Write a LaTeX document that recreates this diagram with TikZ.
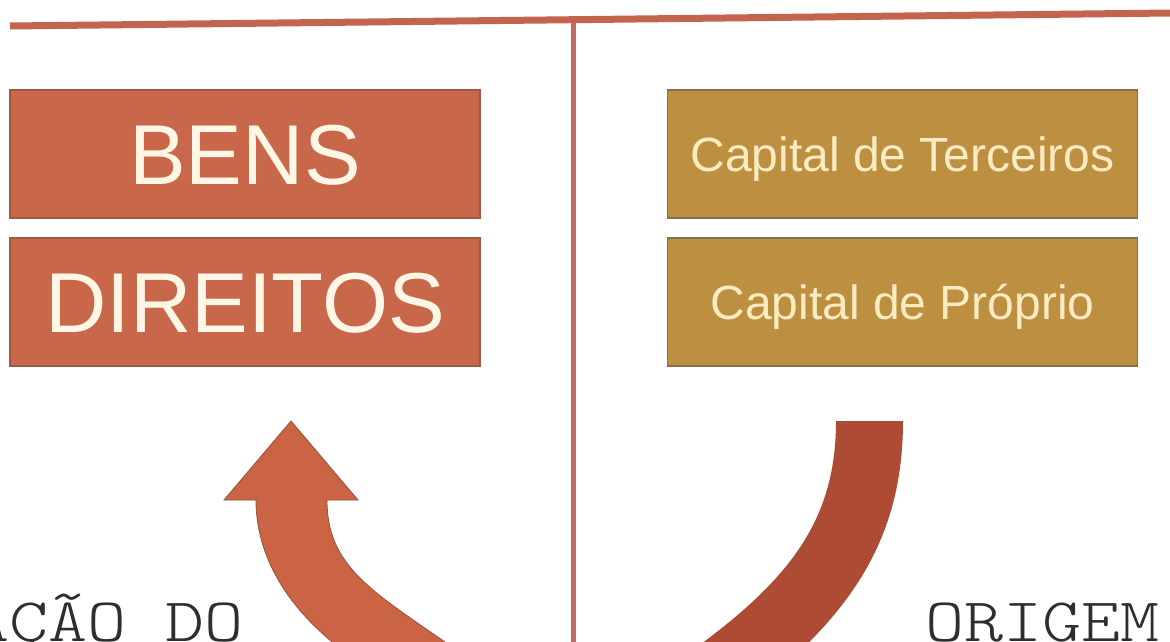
\documentclass[tikz,border=0pt]{standalone}
\usepackage{fontspec}
\setmainfont{Liberation Sans}
\newfontfamily\lightmono{lmmonolt10-regular.otf}
\usepackage{graphicx}
\definecolor{boxred}{HTML}{C8674A}
\definecolor{boxredline}{HTML}{9E5844}
\definecolor{boxgold}{HTML}{BC8F41}
\definecolor{boxgoldline}{HTML}{86704C}
\definecolor{txtcream}{HTML}{FFF6E6}
\definecolor{txtgold}{HTML}{FCEBC2}
\definecolor{rulecol}{HTML}{C3644F}
\definecolor{vrulecol}{HTML}{C06C5C}
\definecolor{arrowA}{HTML}{CB6444}
\definecolor{arrowAline}{HTML}{9C4E3A}
\definecolor{arrowB}{HTML}{AD4B34}
\definecolor{labelgray}{HTML}{2E2E2E}
\begin{document}
\begin{tikzpicture}[x=1pt,y=-1pt,
  redbox/.style={draw=boxredline, line width=1.2pt, fill=boxred,
    minimum width=470pt, minimum height=128pt, inner sep=0pt,
    text=txtcream, font=\fontsize{85}{85}\selectfont,
    text height=61pt, text depth=0pt},
  goldbox/.style={draw=boxgoldline, line width=1.2pt, fill=boxgold,
    minimum width=470pt, minimum height=128pt, inner sep=0pt,
    text=txtgold, font=\fontsize{48}{48}\selectfont,
    text height=34.4pt, text depth=0pt},
  monolabel/.style={inner sep=0pt, text=labelgray,
    font=\lightmono\fontsize{62}{62}\selectfont},
  hrule/.style={draw=rulecol, line width=7pt},
  vrule/.style={draw=vrulecol, line width=5pt},
  upcurve/.style={fill=arrowA, draw=arrowAline, line width=0.8pt, line join=miter},
  downcurve/.style={fill=arrowB}
]
\useasboundingbox (0,0) rectangle (1170,642);
\fill[white] (0,0) rectangle (1170,642);
\begin{scope}
\clip (0,0) rectangle (1170,642);
% rules
\coordinate (hl) at (10,26);
\coordinate (hr) at (1172,13);
\coordinate (vt) at (573,20);
\coordinate (vb) at (573,650);
\draw[vrule] (vt) -- (vb);
\draw[hrule] (hl) -- (hr);
% boxes
\node[redbox] (bens) at (245,154) {BENS};
\node[redbox] (direitos) at (245,302) {DIREITOS};
\node[goldbox] (terceiros) at (902.5,154) {Capital de Terceiros};
\node[goldbox] (proprio) at (902.5,302) {Capital de Próprio};
% curved arrows
\path[upcurve] (291,421) -- (358,500) -- (327,500)
  .. controls (327,565) and (370,590) .. (445,642) -- (485,675)
  -- (390,680) .. controls (305,635) and (256,570) .. (256,500)
  -- (224,500) -- cycle;
\path[downcurve] (836,421) -- (903,421)
  .. controls (903,540) and (850,620) .. (735,705)
  -- (690,652) .. controls (790,580) and (836,520) .. (836,421) -- cycle;
% labels
\node[monolabel, anchor=base east] (aplicacao) at (244,641) {\scalebox{1.2}[1]{AÇÃO DO}};
\node[monolabel, anchor=base west] (origem) at (925,641) {\scalebox{1.2}[1]{ORIGEM}};
\end{scope}
\end{tikzpicture}
\end{document}
